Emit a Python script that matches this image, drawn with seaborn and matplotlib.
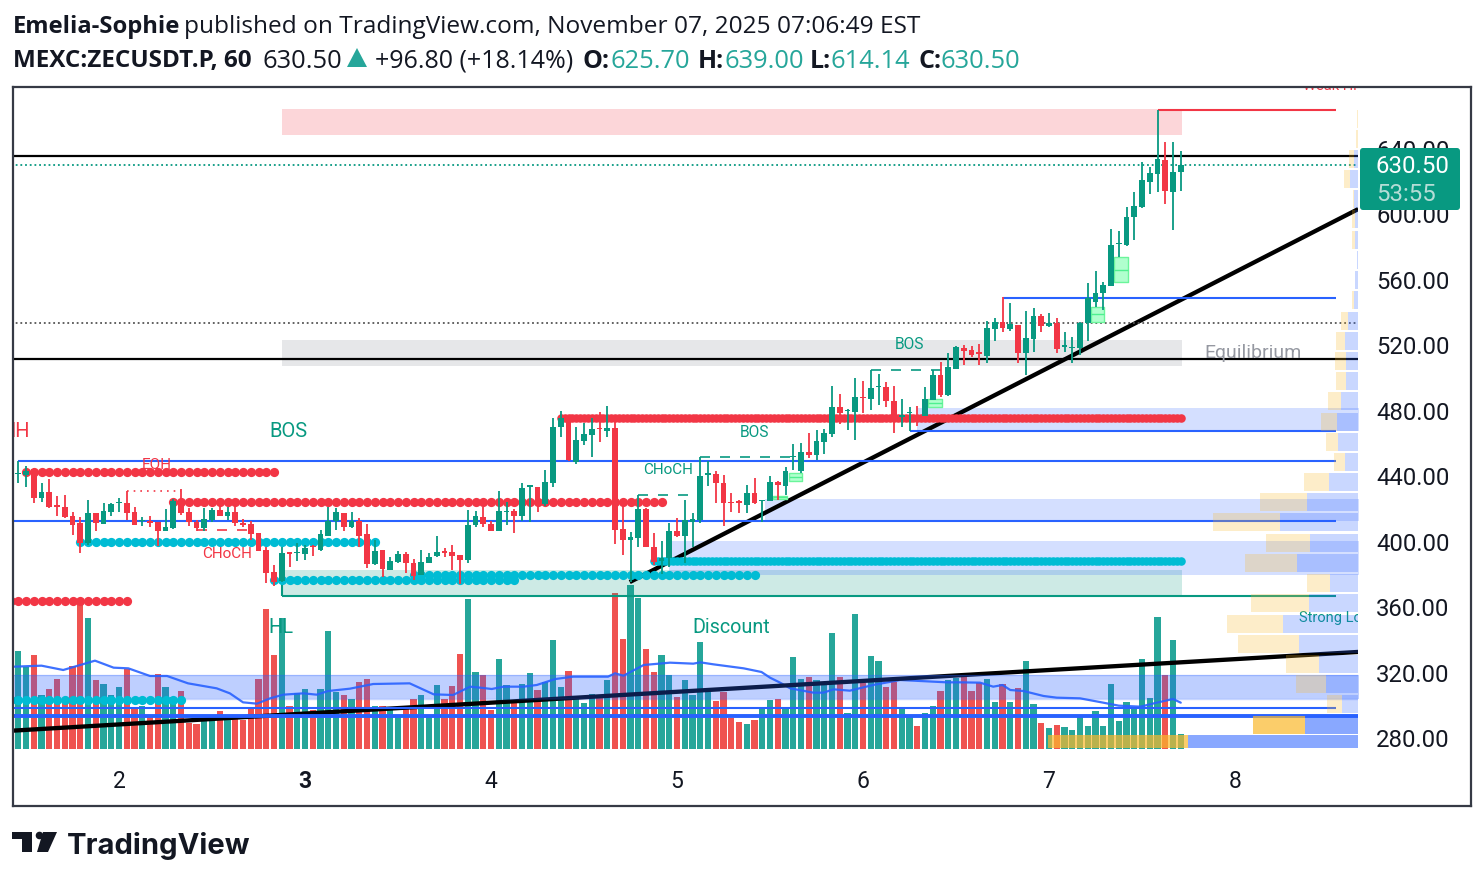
import numpy as np
import pandas as pd
import matplotlib
matplotlib.use("Agg")
import matplotlib.pyplot as plt
from matplotlib.patches import FancyBboxPatch, Polygon, Circle
import seaborn as sns

sns.set_theme(style="white")
plt.rcParams['font.family'] = ['Roboto', 'DejaVu Sans']

W, H = 1484, 880

# hourly bars, hour 0 = midnight of the 2nd
bar_hours = np.arange(-13, 138)

opens = [441.2, 441.0, 444.4, 426.7, 430.4, 422.4, 421.0, 415.7, 411.2, 399.0,
         417.3, 411.0, 418.4, 423.9, 423.5, 418.2, 412.5, 412.5, 412.0, 406.8,
         408.4, 424.5, 418.2, 412.2, 408.2, 413.3, 419.2, 415.9, 418.0, 411.2,
         410.6, 405.1, 394.9, 381.3, 376.0, 393.5, 393.3, 392.5, 397.4, 394.9,
         403.7, 412.9, 417.3, 409.2, 412.5, 404.5, 386.4, 394.9, 382.7, 387.6,
         392.5, 386.8, 379.7, 387.2, 391.3, 394.5, 393.7, 391.9, 388.8, 410.2,
         415.3, 410.8, 406.8, 418.2, 419.0, 415.7, 433.6, 433.4, 423.0, 436.1,
         469.9, 475.8, 448.9, 461.5, 465.2, 469.3, 467.7, 469.3, 407.5, 400.8,
         402.5, 420.0, 396.6, 388.4, 389.8, 406.5, 403.5, 412.0, 413.3, 440.8,
         441.2, 435.7, 424.3, 424.7, 422.4, 429.6, 424.7, 425.0, 436.5, 434.2,
         451.6, 443.2, 455.0, 453.0, 461.1, 465.8, 482.1, 479.9, 479.3, 488.6,
         487.4, 494.5, 494.3, 486.2, 476.4, 478.4, 477.4, 477.0, 486.6, 501.9,
         489.6, 505.7, 518.6, 517.2, 516.2, 513.7, 530.0, 534.5, 529.8, 532.3,
         515.2, 523.9, 538.0, 532.1, 533.9, 519.2, 518.2, 518.2, 533.5, 546.5,
         551.8, 556.5, 581.8, 581.4, 598.7, 604.8, 620.1, 624.8, 633.3, 614.0, 625.7]
highs = [449.3, 446.3, 444.8, 435.7, 438.1, 427.9, 428.3, 418.4, 414.9, 425.5,
         417.3, 423.5, 423.9, 426.5, 431.2, 421.0, 415.3, 415.9, 412.2, 419.8,
         425.9, 432.0, 420.4, 413.3, 420.4, 420.4, 422.4, 421.0, 421.8, 413.7,
         412.9, 405.1, 396.6, 385.8, 396.6, 393.5, 399.0, 398.0, 398.0, 407.2,
         421.0, 420.4, 417.3, 418.4, 414.3, 410.8, 401.0, 394.9, 390.9, 394.5,
         393.5, 389.2, 394.9, 393.3, 403.5, 396.0, 398.0, 391.9, 419.4, 419.0,
         421.0, 412.9, 431.0, 424.5, 420.0, 435.7, 434.7, 433.4, 443.8, 475.4,
         479.9, 477.4, 469.9, 472.3, 475.4, 479.1, 482.9, 476.4, 423.4, 405.7,
         428.5, 420.4, 405.1, 400.4, 411.2, 414.3, 425.5, 417.7, 452.0, 449.3,
         443.2, 440.8, 430.0, 425.5, 434.5, 438.7, 425.5, 440.1, 437.1, 445.4,
         459.5, 460.1, 466.2, 468.3, 469.1, 495.2, 490.3, 480.9, 499.8, 498.2,
         504.9, 502.5, 497.4, 495.2, 487.0, 482.1, 482.9, 494.3, 504.9, 510.0,
         515.1, 519.6, 520.3, 519.6, 520.7, 535.1, 536.6, 549.4, 545.7, 532.5,
         541.0, 542.7, 539.2, 539.6, 536.6, 528.0, 525.3, 534.5, 558.0, 565.5,
         558.6, 591.1, 589.9, 604.4, 613.6, 631.9, 628.8, 663.9, 644.1, 644.1, 639.0]
lows = [435.7, 433.2, 423.9, 424.5, 420.8, 415.9, 414.7, 404.3, 393.3, 398.0,
        406.8, 410.8, 415.9, 418.4, 413.3, 410.2, 409.8, 409.2, 397.6, 406.5,
        407.6, 416.3, 409.8, 406.8, 406.8, 411.8, 415.7, 413.3, 409.8, 408.8,
        401.0, 394.5, 375.0, 373.1, 375.6, 384.7, 388.4, 388.8, 391.5, 394.5,
        403.5, 407.2, 406.8, 408.2, 396.6, 383.7, 385.8, 378.6, 382.7, 386.8,
        381.1, 376.6, 379.7, 386.8, 390.9, 390.9, 382.7, 374.2, 387.2, 408.8,
        409.2, 406.8, 406.8, 410.2, 405.5, 412.8, 412.2, 418.2, 422.0, 433.6,
        464.2, 449.5, 447.5, 459.1, 452.0, 461.1, 464.2, 398.6, 391.9, 375.6,
        397.0, 396.6, 385.8, 380.3, 384.7, 402.7, 386.8, 397.0, 411.2, 434.2,
        423.4, 409.8, 418.0, 417.7, 417.3, 423.0, 412.2, 425.0, 425.5, 428.5,
        443.8, 442.2, 451.4, 450.0, 453.6, 464.2, 471.9, 468.3, 462.1, 478.4,
        480.5, 483.5, 482.5, 466.2, 469.9, 467.9, 470.7, 477.0, 486.6, 488.6,
        489.2, 505.7, 508.0, 513.1, 508.0, 509.0, 522.9, 528.4, 529.0, 509.5,
        501.9, 516.2, 528.4, 531.1, 515.6, 515.8, 509.0, 514.1, 522.9, 543.7,
        541.6, 556.5, 574.2, 581.0, 584.4, 604.2, 612.5, 613.8, 606.4, 590.5, 614.14]
closes = [442.2, 443.4, 426.9, 430.4, 421.4, 421.4, 415.3, 410.4, 399.0, 417.3,
          411.2, 418.8, 422.8, 424.5, 417.7, 410.4, 413.3, 411.4, 406.8, 408.8,
          424.7, 417.7, 412.0, 408.2, 413.7, 419.4, 415.9, 418.2, 411.2, 410.2,
          404.7, 394.5, 380.7, 375.6, 392.9, 392.7, 393.9, 396.0, 396.8, 404.5,
          412.9, 418.0, 409.2, 412.9, 403.7, 386.4, 394.3, 383.3, 388.0, 392.5,
          386.8, 379.2, 387.4, 390.9, 393.5, 393.3, 391.5, 388.8, 410.2, 415.7,
          410.6, 406.8, 418.8, 419.0, 415.9, 432.6, 434.5, 423.0, 436.5, 469.9,
          475.8, 450.0, 462.1, 465.8, 468.7, 468.7, 469.3, 407.1, 401.0, 402.7,
          419.8, 396.6, 387.4, 389.8, 406.5, 403.5, 413.3, 413.7, 440.1, 441.8,
          435.7, 423.4, 423.4, 423.4, 429.6, 423.4, 425.5, 436.5, 434.4, 443.2,
          452.4, 454.6, 453.0, 461.7, 466.2, 482.1, 478.4, 480.5, 488.2, 488.0,
          493.9, 495.2, 486.2, 475.4, 477.4, 479.5, 475.4, 487.0, 501.9, 489.6,
          506.6, 519.0, 516.8, 514.1, 514.8, 530.4, 534.5, 530.4, 532.9, 515.2,
          524.3, 538.0, 532.1, 533.9, 518.0, 520.1, 519.2, 533.5, 548.8, 551.8,
          556.9, 581.4, 582.8, 598.3, 605.2, 621.1, 625.2, 633.7, 614.6, 625.8, 630.5]

volumes = [294, 247, 282, 162, 180, 210, 139, 249, 447, 393,
           207, 195, 162, 187, 239, 122, 129, 97, 225, 187,
           157, 174, 79, 75, 87, 87, 114, 92, 89, 87,
           122, 210, 420, 282, 392, 129, 167, 180, 117, 180,
           354, 172, 162, 150, 201, 210, 129, 129, 122, 97,
           122, 150, 162, 97, 192, 150, 189, 285, 450, 230,
           222, 117, 270, 192, 137, 195, 228, 177, 202, 327,
           187, 234, 152, 137, 165, 162, 207, 467, 330, 492,
           454, 300, 232, 282, 222, 157, 207, 162, 320, 177,
           145, 172, 94, 82, 75, 87, 122, 147, 150, 125,
           275, 210, 216, 207, 192, 347, 216, 107, 405, 197,
           279, 264, 187, 202, 122, 97, 69, 107, 129, 174,
           207, 212, 227, 174, 197, 209, 141, 195, 141, 182,
           264, 135, 78, 63, 72, 66, 57, 97, 69, 114,
           69, 195, 84, 141, 122, 270, 153, 396, 222, 327, 45]

ma_hours = [-13.5, -10, -7.2, -5, -3.1, -0.7, 1.2, 4, 6.2, 8.9, 12.6, 14.3, 16, 17.8, 19.5,
            21.2, 23.8, 25.5, 27, 29.8, 32.8, 37.5, 40.6, 43.1, 45.3, 46.6, 48.1, 49.6, 52.2,
            53.9, 56.3, 58.6, 63.1, 64, 65.1, 67.7, 71.1, 74.1, 75, 76.7, 80.6, 82.9, 84,
            85.3, 86.6, 89.6, 90.9, 92.2, 94.3, 97.3, 100.8, 106.8, 108.5, 111.1, 112.8, 114,
            115, 116.7, 119.3, 121, 124, 127, 129, 131.8, 133.9, 136, 137]
ma_values = [247, 250, 237, 252, 265, 244, 242, 219, 219, 197, 182, 167, 140, 136, 152,
             163, 167, 163, 174, 181, 195, 197, 164, 162, 187, 184, 180, 187, 187,
             192, 210, 217, 217, 227, 220, 252, 259, 256, 260, 254, 242, 231, 214,
             199, 182, 169, 169, 179, 175, 192, 207, 200, 200, 199, 187, 192,
             177, 174, 159, 154, 152, 139, 130, 127, 139, 150, 139]

# volume profile on the right edge
vp_prices = [658.3, 646.1, 633.9, 621.7, 609.4, 597.2, 584.4, 572.2, 559.9, 547.7, 534.9,
             522.6, 510.4, 498.2, 486.0, 473.1, 460.9, 448.7, 436.5, 424.2, 412.0, 399.2,
             387.0, 374.7, 362.5, 349.7, 337.5, 325.2, 313.0, 300.8, 287.9, 277.6]
vp_up = [0, 0, 4, 8, 4, 3, 3, 1, 3, 4, 10, 13, 12, 12, 17, 21, 20, 13, 29, 51, 78, 48,
         61, 28, 49, 75, 59, 39, 32, 16, 53, 170]
vp_down = [1, 2, 5, 6, 1, 3, 3, 0, 0, 2, 7, 9, 11, 10, 13, 16, 12, 11, 25, 47, 67, 44,
           52, 23, 58, 56, 61, 33, 30, 15, 52, 140]

# start hour, end hour, low, high
premium_zone = (21, 137.2, 648.6, 664.4)
equilibrium_zone = (21, 137.2, 507.4, 523.3)
discount_zone = (21, 137.2, 366.8, 382.7)
blue_zones = [(103, 160, 467.6, 481.7), (83.4, 160, 412.6, 426.1), (71, 160, 379.6, 400.4)]
range_band = (-14, 160, 303.8, 318.5)
fvg_boxes = [(84.4, 86.2, 426.1, 427.9), (86.5, 88.1, 437.1, 442.0), (104.4, 106.2, 482.3, 487.2),
             (125.4, 127.1, 534.3, 543.4), (128.4, 130.2, 558.7, 574.0)]

# price, start hour, end hour
red_levels = [(663.8, 134, 157)]
blue_levels = [(549.0, 114, 157), (467.6, 102, 157), (449.3, -13, 157), (412.6, -14, 157), (298.6, -14, 157)]
green_levels = [(366.8, 21, 157)]
black_levels = [635.7, 511.6]
thick_blue_level = 293.7
mark_price = 630.5
dotted_level = 533.6
red_dash_levels = [(431.2, 1, 8, (0, (1, 3))), (407.2, 10, 17, (0, (6, 6)))]
green_dash_levels = [(428.5, 67, 74), (452.0, 75, 87.5), (505.0, 97, 106)]

# price, first hour, last hour, hours between dots
red_dots = [(442.8, -12, 20, 1), (424.5, 7, 70, 1), (363.8, -14, 1, 1), (475.4, 57, 137, 0.5)]
cyan_dots = [(400.0, -5, 33, 1), (376.6, 20, 51, 1), (379.6, 38, 82, 1), (388.2, 69, 137, 0.5), (303.3, -14, 8, 1)]

trend_hours = [[65.9, 159.9], [-14.4, 159.9]]
trend_prices = [[375.3, 603.3], [284.3, 332.6]]

day_ticks = [0, 24, 48, 72, 96, 120, 144]
day_labels = ['2', '3', '4', '5', '6', '7', '8']
price_ticks = [280, 320, 360, 400, 440, 480, 520, 560, 600, 640]

GREEN = '#089981'
RED = '#F23645'
BLUE = '#2962FF'
CYAN = '#00BCD4'
INK = '#131722'

fig = plt.figure(figsize=(W / 100, H / 100), dpi=100, facecolor='white')

# volume sits under everything else
ax_vol = fig.add_axes([13 / W, 1 - 762 / H, (1358 - 13) / W, (762 - 87) / H])
df = pd.DataFrame({'hour': bar_hours, 'volume': volumes,
                   'side': ['up' if c >= o else 'down' for o, c in zip(opens, closes)]})
sns.barplot(data=df, x='hour', y='volume', hue='side', native_scale=True, dodge=False,
            palette={'up': '#26A69A', 'down': '#EF5350'}, saturation=1, width=0.78,
            linewidth=0, errorbar=None, legend=False, ax=ax_vol)
sns.lineplot(x=ma_hours, y=ma_values, color=BLUE, lw=1.6, alpha=0.9, errorbar=None, ax=ax_vol)
ax_vol.set_ylim(-39, 1986)
ax_vol.set_xlim(-13.68, 159.87)
ax_vol.set_xticks(day_ticks, day_labels, fontsize=16.5, color=INK)
ax_vol.get_xticklabels()[1].set_fontweight('bold')
ax_vol.tick_params(axis='x', length=0, pad=5.5)
ax_vol.set_yticks([])
ax_vol.set_xlabel('')
ax_vol.set_ylabel('')
sns.despine(ax=ax_vol, left=True, bottom=True)

ax = ax_vol.twinx()
ax.set_ylim(265.33, 677.9)
ax.set_yticks(price_ticks, [f'{p:.2f}' for p in price_ticks], fontsize=17.2, color=INK)
ax.tick_params(axis='y', length=0, pad=13)
sns.despine(ax=ax, left=True, bottom=True, right=True, top=True)

def zone(a, box, color, alpha, z=1):
    a.fill_between(box[:2], box[2], box[3], color=color, alpha=alpha, lw=0, zorder=z)

zone(ax, premium_zone, RED, 0.2)
zone(ax, equilibrium_zone, '#787B86', 0.18)
zone(ax, discount_zone, GREEN, 0.2)
for box in blue_zones:
    zone(ax, box, BLUE, 0.2)

for h, p in zip(trend_hours, trend_prices):
    ax.plot(h, p, color='black', lw=3.1, zorder=2, solid_capstyle='butt')

zone(ax, range_band, BLUE, 0.3, z=3)
ax.hlines(list(range_band[2:]), -14, 160, color=BLUE, lw=1, alpha=0.25, zorder=3)

for levels, color in [(red_levels, RED), (blue_levels, BLUE), (green_levels, GREEN)]:
    for price, x0, x1 in levels:
        ax.hlines(price, x0, x1, color=color, lw=1.5, zorder=3)
ax.vlines(21, 366.8, 376, color=GREEN, lw=1.5, zorder=3)
ax.hlines(black_levels, -14, 160, color='black', lw=1.6, zorder=3)
ax.hlines(thick_blue_level, -14, 160, color=BLUE, lw=2.8, zorder=3)
ax.hlines(mark_price, -14, 160, color=GREEN, lw=1.3, linestyles=(0, (1, 1.6)), zorder=3)
ax.hlines(dotted_level, -14, 160, color='#555555', lw=1.3, linestyles=(0, (1, 1.6)), zorder=3)
for price, x0, x1, style in red_dash_levels:
    ax.hlines(price, x0, x1, color=RED, lw=1.2, linestyles=style, zorder=3)
for price, x0, x1 in green_dash_levels:
    ax.hlines(price, x0, x1, color=GREEN, lw=1.2, linestyles=(0, (6, 6)), zorder=3)

for box in fvg_boxes:
    ax.fill_between(box[:2], box[2], box[3], facecolor='#B0FFCE', edgecolor='#6BF59B', lw=1, zorder=3)
    ax.hlines((box[2] + box[3]) / 2, box[0], box[1], color='#4FF090', lw=1, zorder=3)

for dots, color in [(red_dots, RED), (cyan_dots, CYAN)]:
    for price, x0, x1, step in dots:
        hours = np.arange(x0, x1 + step, step)
        sns.scatterplot(x=hours, y=np.full(len(hours), price), color=color, s=44 if step == 1 else 38,
                        linewidth=0, ax=ax, zorder=4, legend=False)

candle_colors = [GREEN if c >= o else RED for o, c in zip(opens, closes)]
ax.vlines(bar_hours, lows, highs, color=candle_colors, lw=1.3, zorder=5)
ax.bar(bar_hours, np.abs(np.array(closes) - np.array(opens)), bottom=np.minimum(opens, closes),
       width=0.76, color=candle_colors, linewidth=0, zorder=5)

labels = [(-15.2, 467.6, 'HH', RED, 14.5, 'left'), (21.9, 467.6, 'BOS', GREEN, 14.5, 'center'),
          (4.9, 447.5, 'EQH', RED, 11, 'center'), (13.9, 392.5, 'CHoCH', RED, 11, 'center'),
          (20.9, 347.8, 'HL', GREEN, 14.5, 'center'), (79, 347.8, 'Discount', GREEN, 14.2, 'center'),
          (82, 467, 'BOS', GREEN, 11.2, 'center'), (102, 520.8, 'BOS', GREEN, 11.2, 'center'),
          (70.9, 443.8, 'CHoCH', GREEN, 11, 'center'), (146.3, 515.3, 'Equilibrium', '#9598A1', 14, 'center'),
          (152.3, 353.3, 'Strong Low', GREEN, 10.5, 'left')]
for x, y, s, color, size, ha in labels:
    ax.text(x, y, s, color=color, fontsize=size, ha=ha, va='center', clip_on=True, zorder=6)
ax.text(152.8, 676, 'Weak High', color=RED, fontsize=10.5, ha='left', va='baseline', clip_on=True, zorder=6)

# volume profile, bars grow leftwards from the chart edge
ax_vp = ax.twiny()
ax_vp.set_xlim(1345, 0)
ax_vp.set_xticks([])
sns.despine(ax=ax_vp, left=True, bottom=True, right=True, top=True)
ax_vp.patch.set_visible(False)
up = np.array(vp_up, dtype=float)
down = np.array(vp_down, dtype=float)
heights = [11] * 31 + [8]
strong = [0.25] * 30 + [0.55, 0.55]
strong_d = [0.25] * 30 + [0.7, 0.7]
ax_vp.barh(vp_prices, up, height=heights, color=[(0.16, 0.38, 1, a) for a in strong], linewidth=0)
ax_vp.barh(vp_prices, down, left=up, height=heights, color=[(0.98, 0.72, 0.17, a) for a in strong_d], linewidth=0)

# frame, price badge and logo in pixel coordinates
frame = fig.add_axes([13 / W, 1 - 806 / H, (1471 - 13) / W, (806 - 87) / H], zorder=10)
frame.set_xlim(13, 1471)
frame.set_ylim(806, 87)
frame.patch.set_visible(False)
frame.set_xticks([])
frame.set_yticks([])
for s in frame.spines.values():
    s.set_color('#363A45')
    s.set_linewidth(1.6)
frame.add_patch(FancyBboxPatch((1360, 148), 100, 62, boxstyle='round,pad=0,rounding_size=3',
                               fc=GREEN, ec='none'))
frame.text(1376, 166, '630.50', color='white', fontsize=17.3, va='center')
frame.text(1376, 194, '53:55', color='#B5DDD6', fontsize=17.3, va='center')

page = fig.add_axes([0, 0, 1, 1], zorder=11)
page.set_xlim(0, W)
page.set_ylim(H, 0)
page.axis('off')
page.add_patch(Polygon([(12, 832), (32, 832), (32, 852), (22, 852), (22, 839), (12, 839)], fc=INK, ec='none'))
page.add_patch(Circle((39.5, 835.5), 3.8, fc=INK, ec='none'))
page.add_patch(Polygon([(43, 832), (57, 832), (48, 852), (37, 852)], fc=INK, ec='none'))
page.text(67, 846, 'TradingView', fontsize=21, fontweight='bold', family='Inter', color=INK, va='center')

def header(x, y, s, color=INK, bold=False, size=18):
    page.text(x, y + 3, s, fontsize=size, family='Open Sans', color=color, va='center',
              fontweight='bold' if bold else 'normal')

header(13, 24, 'Emelia-Sophie', bold=True, size=17.1)
header(184, 24, 'published on TradingView.com, November 07, 2025 07:06:49 EST', size=17.6)
header(13, 58, 'MEXC:ZECUSDT.P, 60', bold=True, size=17.5)
header(263, 58, '630.50', size=18.4)
page.add_patch(Polygon([(347, 67), (367, 67), (357, 48)], fc='#26A69A', ec='none'))
header(375, 58, '+96.80 (+18.14%)')
header(582, 58, 'O:', bold=True)
header(611, 58, '625.70', '#26A69A', size=18.4)
header(698, 58, 'H:', bold=True)
header(724, 58, '639.00', '#26A69A', size=18.4)
header(810, 58, 'L:', bold=True)
header(830, 58, '614.14', '#26A69A', size=18.4)
header(918, 58, 'C:', bold=True)
header(941, 58, '630.50', '#26A69A', size=18.4)

fig.savefig('out.png', dpi=100)
